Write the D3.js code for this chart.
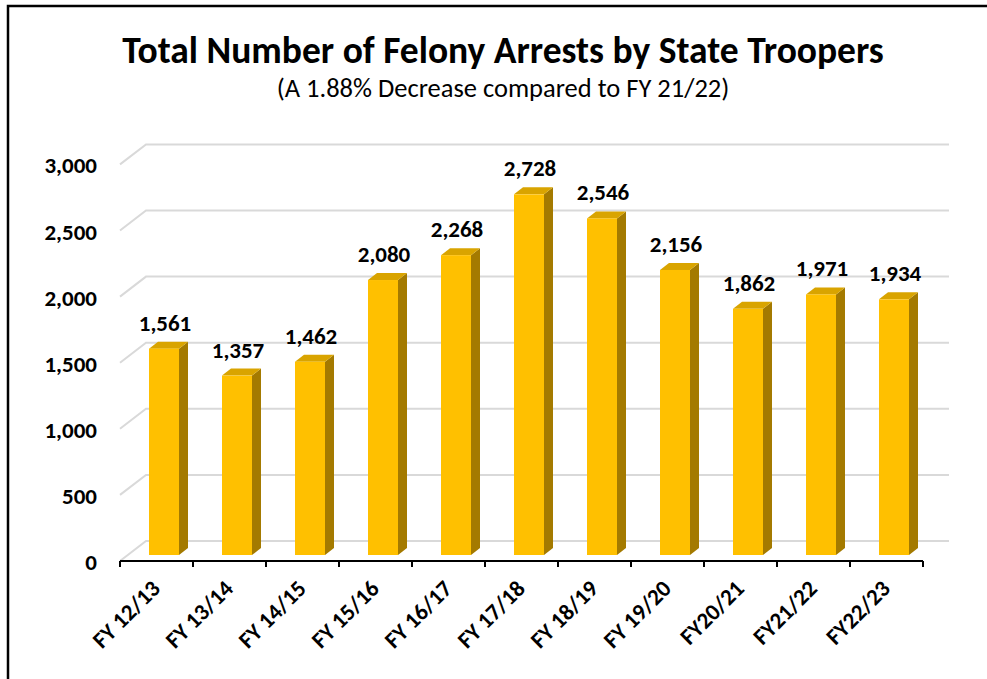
<!DOCTYPE html>
<html>
<head>
<meta charset="utf-8">
<script src="https://cdn.jsdelivr.net/npm/d3@7"></script>
<style>
  body { margin: 0; background: #fff; }
  text { font-family: Carlito, Lato, "Liberation Sans", sans-serif; }
</style>
</head>
<body>
<svg id="chart" width="987" height="679"></svg>
<script>
// dados
const categorias = ["FY 12/13", "FY 13/14", "FY 14/15", "FY 15/16", "FY 16/17", "FY 17/18",
                    "FY 18/19", "FY 19/20", "FY20/21", "FY21/22", "FY22/23"];
const prisoes = [1561, 1357, 1462, 2080, 2268, 2728, 2546, 2156, 1862, 1971, 1934];
const ticksY = [0, 500, 1000, 1500, 2000, 2500, 3000];

const svg = d3.select("#chart");

// moldura
svg.append("path")
    .attr("d", "M8,679 L8,6 L987,6")
    .attr("fill", "none")
    .attr("stroke", "black")
    .attr("stroke-width", 2.5);

// titulo
svg.append("text")
    .attr("x", 503).attr("y", 63)
    .attr("text-anchor", "middle")
    .attr("font-size", 37.5).attr("font-weight", "bold")
    .text("Total Number of Felony Arrests by State Troopers");
svg.append("text")
    .attr("x", 503).attr("y", 97)
    .attr("text-anchor", "middle")
    .attr("font-size", 26.5)
    .text("(A 1.88% Decrease compared to FY 21/22)");

// escalas (plano da frente)
const x = d3.scaleBand().domain(categorias).range([120, 923]);
const y = d3.scaleLinear().domain([0, 3000]).range([561, 164.4]);

const fundo = {dx: 26, dy: -20};   // deslocamento da parede de fundo
const barraOff = {dx: 8, dy: -6};  // posicao da barra dentro da profundidade
const prof = {dx: 9, dy: -7};      // profundidade da barra

// linhas de grade
ticksY.forEach(t => {
    const yf = y(t);
    svg.append("path")
        .attr("d", `M${x.range()[0]},${yf} L${x.range()[0] + fundo.dx},${yf + fundo.dy} L${x.range()[1] + fundo.dx},${yf + fundo.dy}`)
        .attr("fill", "none")
        .attr("stroke", "#d9d9d9")
        .attr("stroke-width", 2);
});

// rotulos eixo y
svg.append("g").selectAll("text")
    .data(ticksY)
    .join("text")
    .attr("x", 97)
    .attr("y", d => y(d) + 9)
    .attr("text-anchor", "end")
    .attr("font-size", 23).attr("font-weight", "bold")
    .text(d => d3.format(",")(d));

// barras 3D
const larg = 30;
const g = svg.append("g");
categorias.forEach((c, i) => {
    const v = prisoes[i];
    const x0 = x(c) + 21 + barraOff.dx;
    const y0 = y(0) + barraOff.dy;
    const yt = y(v) + barraOff.dy;
    // lateral
    g.append("path")
        .attr("d", `M${x0 + larg},${y0} L${x0 + larg + prof.dx},${y0 + prof.dy} L${x0 + larg + prof.dx},${yt + prof.dy} L${x0 + larg},${yt} Z`)
        .attr("fill", "#a47a00");
    // topo
    g.append("path")
        .attr("d", `M${x0},${yt} L${x0 + prof.dx},${yt + prof.dy} L${x0 + larg + prof.dx},${yt + prof.dy} L${x0 + larg},${yt} Z`)
        .attr("fill", "#d9a400");
    // frente
    g.append("rect")
        .attr("x", x0).attr("y", yt)
        .attr("width", larg).attr("height", y0 - yt)
        .attr("fill", "#ffc000");
    // valor
    g.append("text")
        .attr("x", x0 + larg / 2 + 1)
        .attr("y", yt - 18)
        .attr("text-anchor", "middle")
        .attr("font-size", 23).attr("font-weight", "bold")
        .text(d3.format(",")(v));
});

// eixo x
svg.append("line")
    .attr("x1", 120).attr("x2", 923)
    .attr("y1", 561).attr("y2", 561)
    .attr("stroke", "black").attr("stroke-width", 2);
d3.range(categorias.length + 1).forEach(i => {
    const xt = 120 + i * x.bandwidth();
    svg.append("line")
        .attr("x1", xt).attr("x2", xt)
        .attr("y1", 561).attr("y2", 567)
        .attr("stroke", "black").attr("stroke-width", 2);
});

svg.append("g").selectAll("text")
    .data(categorias)
    .join("text")
    .attr("transform", d => `translate(${x(d) + x.bandwidth() / 2 + 5},${590}) rotate(-45)`)
    .attr("text-anchor", "end")
    .attr("font-size", 23).attr("font-weight", "bold")
    .text(d => d);
</script>
</body>
</html>
